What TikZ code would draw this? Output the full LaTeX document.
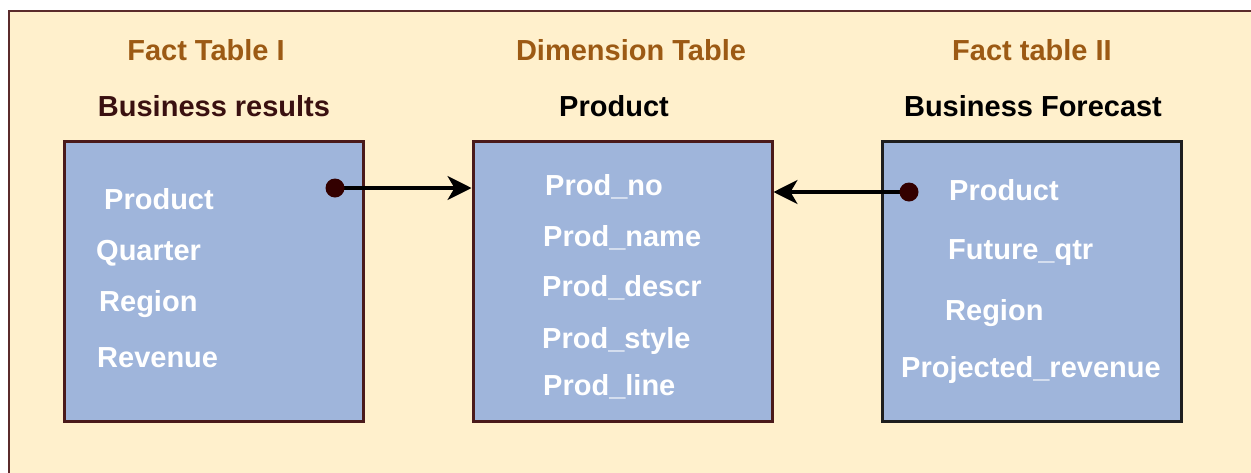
\documentclass[tikz,border=0pt]{standalone}
\usepackage{fontspec}
\setmainfont{Liberation Sans}
\usetikzlibrary{arrows.meta}
\definecolor{bgfill}{HTML}{FFF0CC}
\definecolor{frameline}{HTML}{5B2B2B}
\definecolor{boxfill}{HTML}{9FB5DB}
\definecolor{boxline}{HTML}{4A1A1A}
\definecolor{boxlinedark}{HTML}{1E1E1E}
\definecolor{titlebrown}{HTML}{9C5A14}
\definecolor{subdark}{HTML}{3A1010}
\definecolor{dotcol}{HTML}{330000}
\tikzset{
  tablebox/.style={draw=boxline, fill=boxfill, line width=3pt, minimum width=299pt, minimum height=280pt, inner sep=0pt},
  attr/.style={anchor=base west, text=white, font=\fontsize{29}{34}\selectfont\bfseries, inner sep=0pt},
  ttl/.style={text=titlebrown, font=\fontsize{29}{34}\selectfont\bfseries, inner sep=0pt},
  subttl/.style={font=\fontsize{29}{34}\selectfont\bfseries, inner sep=0pt},
  keydot/.style={circle, fill=dotcol, minimum size=19pt, inner sep=0pt},
  link/.style={draw=black, line width=3.2pt, -{Stealth[length=24pt,width=24pt,inset=7pt]}}
}
\begin{document}
\begin{tikzpicture}[x=1pt,y=-1pt]
\useasboundingbox (0,0) rectangle (1251,472);
\begin{scope}
\clip (0,0) rectangle (1251,472);
\draw[draw=frameline, fill=bgfill, line width=2.5pt] (9,11) rectangle (1275,495);
\end{scope}

% titles
\node[ttl] (t1) at (206,50) {Fact Table I};
\node[subttl, text=subdark] (s1) at (214,106) {Business results};
\node[ttl] (t2) at (631,50) {Dimension Table};
\node[subttl] (s2) at (614,106) {Product};
\node[ttl] (t3) at (1032,50) {Fact table II};
\node[subttl] (s3) at (1033,106) {Business Forecast};

% boxes
\node[tablebox] (b1) at (213.5,281) {};
\node[tablebox] (b2) at (622.5,281) {};
\node[tablebox, draw=boxlinedark] (b3) at (1031.5,281) {};

% attributes box 1
\node[attr] (a11) at (104,209) {Product};
\node[attr] (a12) at (96,260) {Quarter};
\node[attr] (a13) at (99,311) {Region};
\node[attr] (a14) at (97,367) {Revenue};

% attributes box 2
\node[attr] (a21) at (545,195) {Prod\_no};
\node[attr] (a22) at (543,246) {Prod\_name};
\node[attr] (a23) at (542,296) {Prod\_descr};
\node[attr] (a24) at (542,348) {Prod\_style};
\node[attr] (a25) at (543,395) {Prod\_line};

% attributes box 3
\node[attr] (a31) at (949,200) {Product};
\node[attr] (a32) at (948,259) {Future\_qtr};
\node[attr] (a33) at (945,320) {Region};
\node[attr] (a34) at (901,377) {Projected\_revenue};

% connectors
\coordinate (p1) at (335,188);
\coordinate (p2) at (909,192);
\draw[link] (p1) -- (b2.west |- p1);
\draw[link] (p2) -- (b2.east |- p2);
\node[keydot] (d1) at (p1) {};
\node[keydot] (d2) at (p2) {};
\end{tikzpicture}
\end{document}
